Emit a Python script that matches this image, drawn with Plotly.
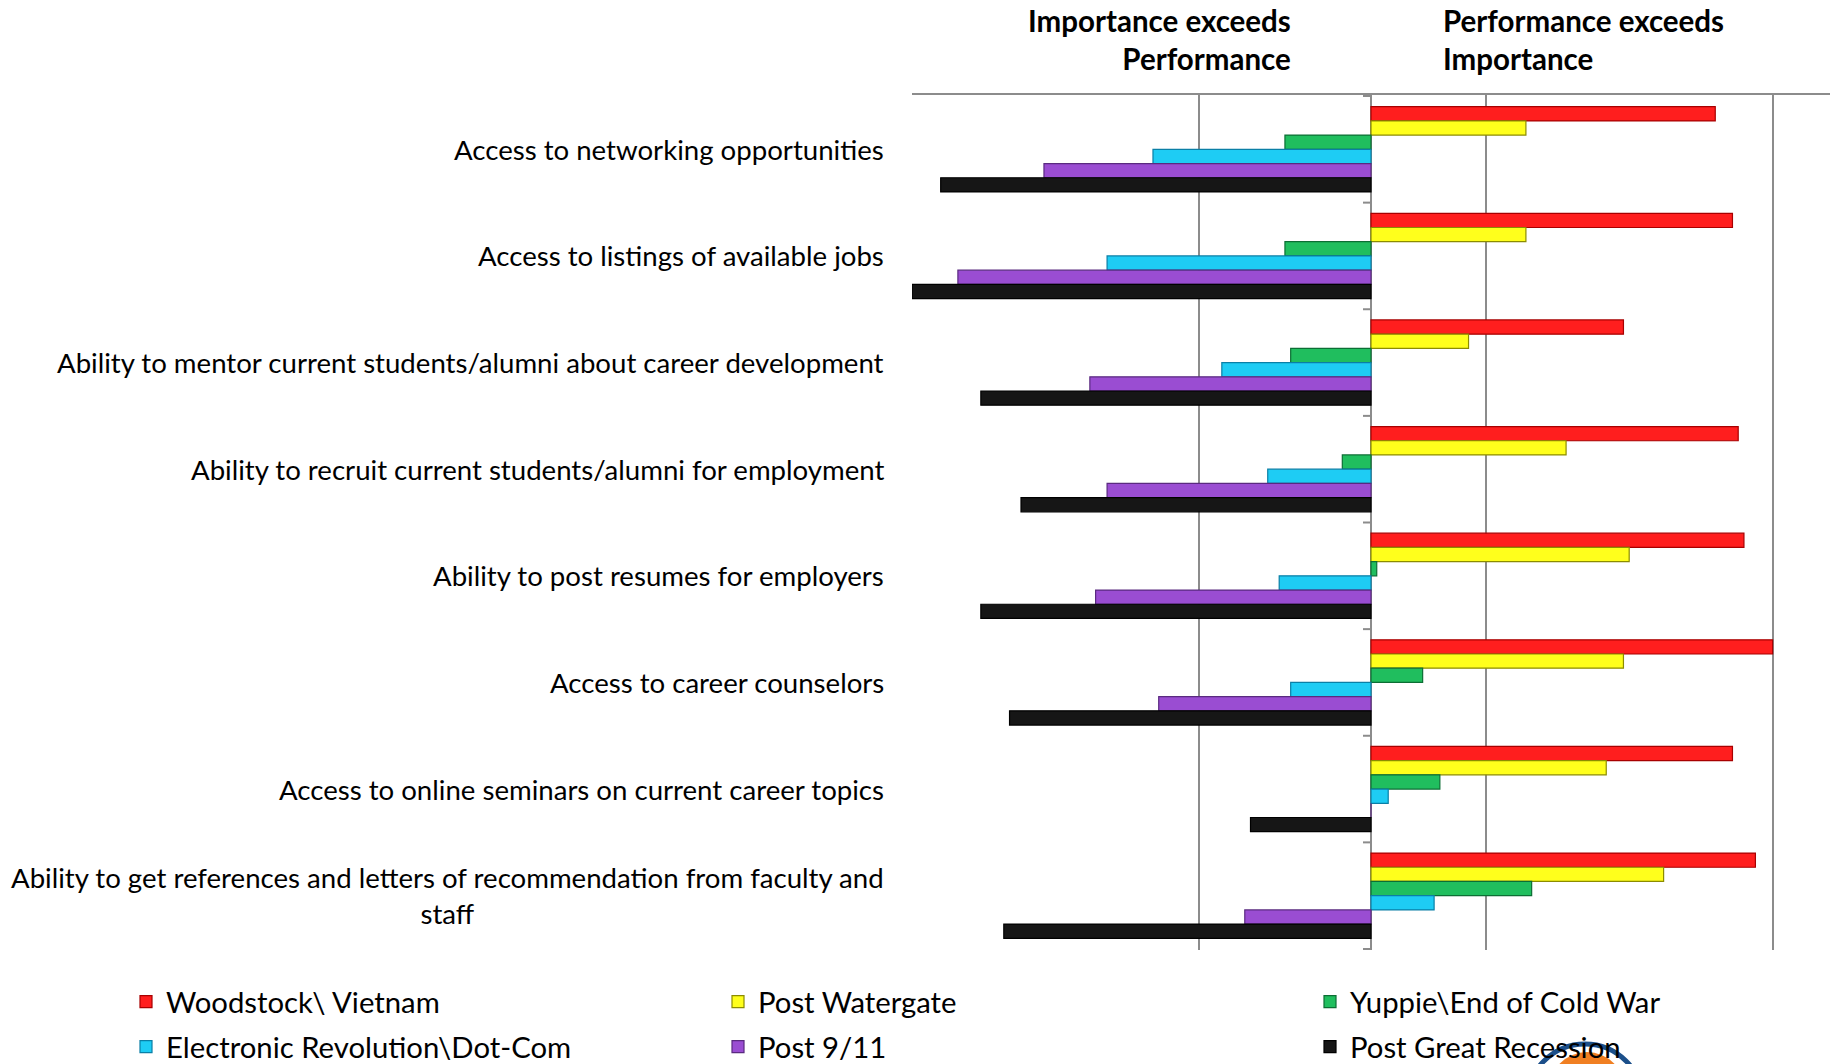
import textwrap
import plotly.graph_objects as go

# Gap between performance and importance ratings, by generation
categories = [
    "Access to networking opportunities",
    "Access to listings of available jobs",
    "Ability to mentor current students/alumni about career development",
    "Ability to recruit current students/alumni for employment",
    "Ability to post resumes for employers",
    "Access to career counselors",
    "Access to online seminars on current career topics",
    "Ability to get references and letters of recommendation from faculty and staff",
]

series_names = [
    "Woodstock\\ Vietnam",
    "Post Watergate",
    "Yuppie\\End of Cold War",
    "Electronic Revolution\\Dot-Com",
    "Post 9/11",
    "Post Great Recession",
]

woodstock_vietnam = [0.60, 0.63, 0.44, 0.64, 0.65, 0.70, 0.63, 0.67]
post_watergate = [0.27, 0.27, 0.17, 0.34, 0.45, 0.44, 0.41, 0.51]
yuppie_cold_war = [-0.15, -0.15, -0.14, -0.05, 0.01, 0.09, 0.12, 0.28]
dot_com = [-0.38, -0.46, -0.26, -0.18, -0.16, -0.14, 0.03, 0.11]
post_9_11 = [-0.57, -0.72, -0.49, -0.46, -0.48, -0.37, 0.00, -0.22]
post_recession = [-0.75, -0.80, -0.68, -0.61, -0.68, -0.63, -0.21, -0.64]

series_values = [woodstock_vietnam, post_watergate, yuppie_cold_war,
                 dot_com, post_9_11, post_recession]

fills = ["#FF1E1E", "#FFFF1C", "#20BE5E", "#1ECCF4", "#9A4DD2", "#161616"]
edges = ["#A80000", "#8C8C00", "#0C6E34", "#0A7FA6", "#5A2A80", "#000000"]

FONT = "Lato, 'Open Sans', 'DejaVu Sans', sans-serif"
GRID = "#8C8C8C"

W, H = 1839, 1064
ML, MR, MT, MB = 912, 9, 95, 114
plot_w = W - ML - MR
plot_h = H - MT - MB


def px_to_paper_x(px):
    return (px - ML) / plot_w


def px_to_paper_y(py):
    return (H - MB - py) / plot_h


# Legend laid out as a 3-column, 2-row grid below the chart
legend_text_x = [166, 758, 1350]
legend_row_y = [1002, 1047]

fig = go.Figure()
legends = {}
for i, (name, vals) in enumerate(zip(series_names, series_values)):
    key = "legend" if i == 0 else f"legend{i + 1}"
    fig.add_trace(go.Bar(
        y=categories,
        x=vals,
        name=name,
        orientation="h",
        marker=dict(color=fills[i], line=dict(color=edges[i], width=1.2)),
        legend=key,
        hovertemplate="%{y}: %{x:.2f}<extra>" + name + "</extra>",
    ))
    legends[key] = dict(
        orientation="h",
        xref="container", yref="container",
        xanchor="left", yanchor="middle",
        x=(legend_text_x[i % 3] - 40) / W,
        y=1 - legend_row_y[i // 3] / H,
        font=dict(family=FONT, size=29.3, color="#000000"),
        bgcolor="rgba(0,0,0,0)",
        itemclick=False, itemdoubleclick=False,
    )

# Category labels, right-aligned left of the plot, long ones wrapped and centred
annotations = []
for cat in categories:
    annotations.append(dict(
        text="<br>".join(textwrap.wrap(cat, 72)),
        xref="paper", yref="y",
        x=px_to_paper_x(886), y=cat,
        xanchor="right", yanchor="middle", align="center",
        showarrow=False,
        font=dict(family=FONT, size=27.6, color="#000000"),
    ))

# Direction headers above the chart
annotations.append(dict(
    text="<b>Importance exceeds<br>Performance</b>",
    xref="paper", yref="paper",
    x=px_to_paper_x(1293), y=px_to_paper_y(40),
    xanchor="right", yanchor="middle", align="right",
    showarrow=False,
    font=dict(family=FONT, size=29.5, color="#000000"),
))
annotations.append(dict(
    text="<b>Performance exceeds<br>Importance</b>",
    xref="paper", yref="paper",
    x=px_to_paper_x(1441), y=px_to_paper_y(40),
    xanchor="left", yanchor="middle", align="left",
    showarrow=False,
    font=dict(family=FONT, size=29.5, color="#000000"),
))

# Tick marks on the zero axis at category boundaries
shapes = []
tick_len = 8 / (plot_w / 1.6)
for k in range(len(categories) + 1):
    shapes.append(dict(
        type="line", xref="x", yref="y",
        x0=-tick_len, x1=0, y0=k - 0.5, y1=k - 0.5,
        line=dict(color=GRID, width=2),
    ))

# Corner emblem peeking in at the bottom right
shapes.append(dict(
    type="circle", xref="paper", yref="paper",
    x0=px_to_paper_x(1527), x1=px_to_paper_x(1643),
    y0=px_to_paper_y(1160), y1=px_to_paper_y(1044),
    line=dict(color="#1B4F8A", width=5), fillcolor="rgba(0,0,0,0)",
    layer="below",
))
shapes.append(dict(
    type="circle", xref="paper", yref="paper",
    x0=px_to_paper_x(1549), x1=px_to_paper_x(1625),
    y0=px_to_paper_y(1128), y1=px_to_paper_y(1052),
    line=dict(width=0), fillcolor="#F07F22",
    layer="below",
))

fig.update_layout(
    width=W, height=H, autosize=False,
    margin=dict(l=ML, r=MR, t=MT, b=MB, pad=0, autoexpand=False),
    paper_bgcolor="#FFFFFF", plot_bgcolor="#FFFFFF",
    barmode="group", bargap=0.2, bargroupgap=0,
    font=dict(family=FONT, color="#000000"),
    xaxis=dict(
        range=[-0.8, 0.8], tickmode="linear", tick0=-0.8, dtick=0.5,
        showticklabels=False, ticks="",
        showgrid=True, gridcolor=GRID, gridwidth=2,
        zeroline=True, zerolinecolor=GRID, zerolinewidth=2,
        side="top", showline=True, linecolor=GRID, linewidth=2,
        fixedrange=True,
    ),
    yaxis=dict(
        type="category", categoryorder="array", categoryarray=categories,
        autorange="reversed",
        showticklabels=False, ticks="", showgrid=False,
        zeroline=False, showline=False, fixedrange=True,
    ),
    annotations=annotations,
    shapes=shapes,
    showlegend=True,
    **legends,
)

fig.write_html("out.html")
